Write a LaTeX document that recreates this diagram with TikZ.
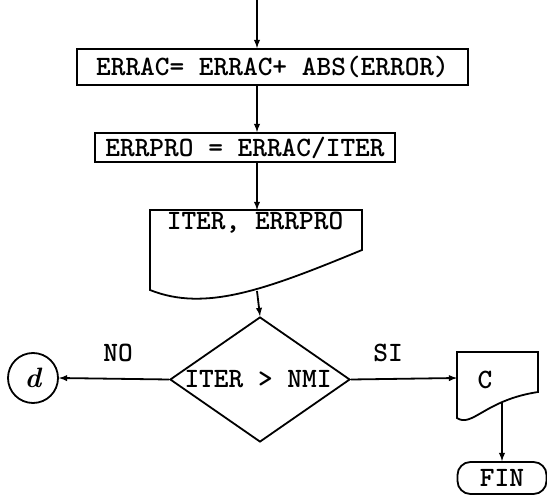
\documentclass[tikz,border=0pt]{standalone}
\usepackage{fontspec}
\usepackage{tikz}
\usetikzlibrary{shapes.geometric, arrows, positioning, calc}

\begin{document}
\begin{tikzpicture}[x=1pt, y=-1pt, line width=1.8pt, >=latex,
    font=\ttfamily\bfseries\fontsize{28}{30}\selectfont,
    proc/.style={draw, rectangle, inner sep=0pt},
    decision/.style={draw, diamond, inner sep=0pt, minimum width=180pt, minimum height=125pt},
    conn/.style={draw, circle, inner sep=0pt, minimum size=50pt},
    term/.style={draw, rounded corners=13pt, inner sep=0pt, minimum width=89pt, minimum height=32pt},
    lbl/.style={inner sep=0pt}]
    \useasboundingbox (0,0) rectangle (547,497);

    \coordinate (start) at (257,0);
    \node[proc, minimum width=391pt, minimum height=36pt] (acum) at (272.5,67) {ERRAC= ERRAC+ ABS(ERROR)};
    \node[proc, minimum width=300pt, minimum height=29pt] (prom) at (245,147.5) {ERRPRO = ERRAC/ITER};

    \coordinate (salidatop) at (257,210);
    \draw (150,210) -- (362,210) -- (362,250)
        .. controls (265,290) and (205,312) .. (150,290) -- cycle;
    \node[lbl] (salida) at (255,223) {ITER, ERRPRO};
    \coordinate (salidaout) at (257,291);

    \node[decision] (dec) at (260,379.5) {};
    \node[lbl] (cond) at (258,379) {ITER > NMI};

    \node[conn] (conector) at (33,378) {{\rmfamily\bfseries\itshape\fontsize{28}{30}\selectfont d}};
    \node[lbl] (no) at (118,353) {NO};
    \node[lbl] (si) at (388,353) {SI};

    \coordinate (imprin) at (457,378);
    \draw (457,352) -- (538,352) -- (538,392)
        .. controls (485,400) and (472,428) .. (457,418) -- cycle;
    \node[lbl] (impr) at (485,380) {C};
    \coordinate (improut) at (502,403);

    \node[term] (fin) at (502,478) {FIN};

    \draw[->] (start) -- (start |- acum.north);
    \draw[->] (start |- acum.south) -- (start |- prom.north);
    \draw[->] (start |- prom.south) -- (salidatop);
    \draw[->] (salidaout) -- (dec.north);
    \draw[->] (dec.west) -- (conector.east);
    \draw[->] (dec.east) -- (imprin);
    \draw[->] (improut) -- (fin.north -| improut);
\end{tikzpicture}
\end{document}
